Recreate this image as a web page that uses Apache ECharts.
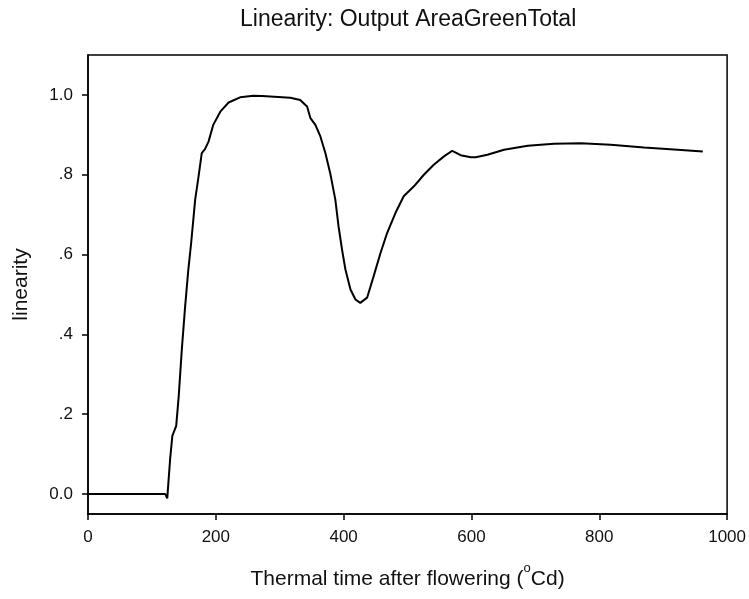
<!DOCTYPE html>
<html>
<head>
<meta charset="utf-8">
<script src="https://cdn.jsdelivr.net/npm/echarts@6/dist/echarts.min.js"></script>
<style>html,body{margin:0;padding:0;background:#fff}#c{width:749px;height:599px}</style>
</head>
<body>
<div id="c"></div>
<script>
var thermalTime = [0,121,124,128.5,132,138,142,146.8,152,157,161.4,167.7,173,178,183,188.6,196,207,220,238,259,272,285,316.6,332,342.8,348,355.8,363.6,371.5,379,387,392,397.5,402.8,410.7,418.5,426,436.7,447,457.7,468,481,494,510,525.5,541,557,570,583,599,606.6,625,651,688,729,771,818,870,922.6,962];
var linearity = [0,0,-0.011,0.0875,0.146,0.171,0.246,0.3625,0.47,0.5625,0.629,0.7375,0.796,0.854,0.864,0.883,0.925,0.958,0.981,0.994,0.998,0.997,0.996,0.993,0.9875,0.971,0.942,0.925,0.896,0.854,0.804,0.7375,0.671,0.6125,0.5625,0.5125,0.4875,0.479,0.492,0.546,0.604,0.654,0.704,0.746,0.771,0.8,0.825,0.846,0.86,0.849,0.844,0.844,0.85,0.8625,0.8725,0.8775,0.879,0.875,0.868,0.8625,0.858];
var yTicks = [0, 0.2, 0.4, 0.6, 0.8, 1.0];
var yTickLabels = ['0.0', '.2', '.4', '.6', '.8', '1.0'];
var xTicks = [0, 200, 400, 600, 800, 1000];
var xTickLabels = ['0', '200', '400', '600', '800', '1000'];

var data = thermalTime.map(function (x, i) { return [x, linearity[i]]; });
var font = 'Liberation Sans, Arial, sans-serif';
function pick(v, ticks, labels) {
  for (var i = 0; i < ticks.length; i++) { if (Math.abs(v - ticks[i]) < 1e-9) return labels[i]; }
  return '';
}
var chart = echarts.init(document.getElementById('c'), null, {renderer: 'canvas'});
chart.setOption({
  animation: false,
  backgroundColor: '#fff',
  title: {
    text: 'Linearity: Output AreaGreenTotal',
    left: 235, top: 3,
    textStyle: {fontFamily: font, fontSize: 23, fontWeight: 'normal', color: '#111'}
  },
  grid: {left: 88, right: 21, top: 55, bottom: 85, show: true, borderColor: '#000', borderWidth: 1.5, backgroundColor: 'transparent'},
  xAxis: {
    type: 'value', min: 0, max: 1000, interval: 200,
    name: '{m|Thermal time after flowering (}{sup|o}{m|Cd)}',
    nameLocation: 'middle', nameGap: 48,
    nameTextStyle: {fontFamily: font, fontSize: 21, color: '#111',
      rich: {
        m: {fontFamily: font, fontSize: 21, color: '#111', lineHeight: 34},
        sup: {fontFamily: font, fontSize: 13, color: '#111', lineHeight: 13, verticalAlign: 'top'}
      }},
    axisLine: {show: true, onZero: false, lineStyle: {color: '#000', width: 1.5}},
    axisTick: {show: true, length: 6, lineStyle: {color: '#000', width: 1.5}, customValues: xTicks},
    axisLabel: {fontFamily: font, fontSize: 17, color: '#111', margin: 15, customValues: xTicks,
      formatter: function (v) { return pick(v, xTicks, xTickLabels); }},
    splitLine: {show: false}
  },
  yAxis: {
    type: 'value', min: -0.05, max: 1.1,
    name: 'linearity',
    nameLocation: 'middle', nameGap: 56, nameRotate: 90,
    nameTextStyle: {fontFamily: font, fontSize: 21, color: '#111'},
    axisLine: {show: true, onZero: false, lineStyle: {color: '#000', width: 1.5}},
    axisTick: {show: true, length: 6, lineStyle: {color: '#000', width: 1.5}, customValues: yTicks},
    axisLabel: {fontFamily: font, fontSize: 17, color: '#111', margin: 15, customValues: yTicks,
      formatter: function (v) { return pick(v, yTicks, yTickLabels); }},
    splitLine: {show: false}
  },
  series: [{
    type: 'line', data: data, showSymbol: false, smooth: false,
    lineStyle: {color: '#000', width: 2}
  }]
});
</script>
</body>
</html>
